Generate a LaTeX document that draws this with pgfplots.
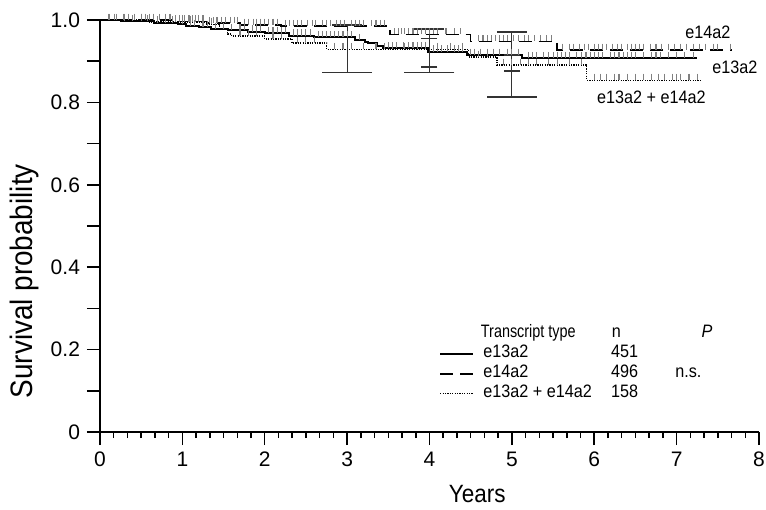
\documentclass[border=0pt]{standalone}
\usepackage{fontspec}
\setmainfont{Liberation Sans}[FakeStretch=0.9]
\newfontfamily\tickfont{Liberation Sans}
\newfontfamily\narrowfont{Liberation Sans}[FakeStretch=0.8]
\usepackage{pgfplots}
\pgfplotsset{compat=1.18}
\begin{document}
\begin{tikzpicture}
\begin{axis}[
  scale only axis, width=329.5pt, height=206pt,
  xmin=0, xmax=8, ymin=0, ymax=1,
  axis lines=left, axis line style={line width=0.75pt, -},
  clip=false,
  xtick={0,1,2,3,4,5,6,7,8}, minor x tick num=5,
  ytick={0,0.2,0.4,0.6,0.8,1.0}, yticklabels={0,0.2,0.4,0.6,0.8,1.0},
  extra y ticks={0.1,0.3,0.5,0.7,0.9}, extra y tick labels={},
  tick align=outside,
  major tick length=6.5pt, minor tick length=3pt,
  tick style={line width=0.75pt, black},
  /pgf/number format/assume math mode=true,
  tick label style={font=\tickfont\fontsize{10.5}{12}\selectfont},
  xlabel={Years}, ylabel={Survival probability},
  xlabel style={at={(axis description cs:0.5725,-0.1505)}, anchor=center, font=\fontsize{12.5}{14}\selectfont},
  ylabel style={at={(axis description cs:-0.1153,0.366)}, anchor=center, font=\fontsize{15.5}{17}\selectfont},
]
% censor marks
\addplot[only marks, mark=|, mark size=1.6pt, mark options={yshift=1.6pt, line width=0.55pt, draw=black!50}] table {
0.3 1.0
0.5 1.0
0.8 0.995
1.1 0.995
1.35 0.99
1.7 0.961
1.8 0.961
1.9 0.961
2.1 0.954
2.2 0.954
2.4 0.944
2.5 0.944
2.6 0.944
2.85 0.929
2.95 0.929
3.05 0.929
3.2 0.929
3.35 0.929
3.45 0.929
3.55 0.929
3.7 0.929
3.85 0.929
3.95 0.929
4.1 0.929
4.25 0.929
4.4 0.929
4.6 0.91
4.7 0.91
4.9 0.891
5.0 0.891
5.1 0.891
5.2 0.891
5.3 0.891
5.45 0.891
5.55 0.891
5.7 0.891
5.85 0.891
6.0 0.854
6.08 0.854
6.15 0.854
6.25 0.854
6.3 0.854
6.4 0.854
6.5 0.854
6.6 0.854
6.7 0.854
6.78 0.854
6.85 0.854
6.95 0.854
7.0 0.854
7.05 0.854
7.15 0.854
7.25 0.854
};
\addplot[only marks, mark=|, mark size=1.6pt, mark options={yshift=1.6pt, line width=0.55pt, draw=black!50}] table {
0.1 1.0
0.18 1.0
0.3 0.997
0.4 0.997
0.5 0.997
0.58 0.997
0.7 0.993
0.8 0.993
0.88 0.993
1.0 0.99
1.1 0.985
1.15 0.985
1.25 0.982
1.3 0.982
1.4 0.978
1.5 0.978
1.6 0.975
1.7 0.975
1.75 0.975
1.85 0.972
1.9 0.972
1.95 0.972
2.05 0.968
2.1 0.968
2.15 0.968
2.2 0.968
2.25 0.968
2.35 0.962
2.4 0.962
2.45 0.962
2.5 0.962
2.55 0.962
2.65 0.958
2.7 0.958
2.75 0.958
2.8 0.958
2.85 0.958
2.9 0.958
2.95 0.958
3.0 0.958
3.05 0.958
3.15 0.951
3.5 0.931
3.55 0.931
3.6 0.931
3.68 0.931
3.75 0.931
3.8 0.931
3.85 0.931
3.9 0.931
3.95 0.931
4.05 0.923
4.1 0.923
4.15 0.923
4.22 0.923
4.3 0.923
4.35 0.923
4.4 0.923
4.5 0.915
4.55 0.915
4.62 0.915
4.7 0.915
4.78 0.915
4.85 0.915
4.95 0.915
5.0 0.915
5.08 0.915
5.2 0.907
5.25 0.907
5.3 0.907
5.38 0.907
5.45 0.907
5.5 0.907
5.55 0.907
5.6 0.907
5.65 0.907
5.7 0.907
5.78 0.907
5.85 0.907
5.9 0.907
5.95 0.907
6.0 0.907
6.05 0.907
6.1 0.907
6.2 0.907
6.25 0.907
6.3 0.907
6.35 0.907
6.4 0.907
6.45 0.907
6.5 0.907
6.6 0.907
6.7 0.907
6.75 0.907
6.8 0.907
6.9 0.907
7.0 0.907
7.1 0.907
7.2 0.907
};
\addplot[only marks, mark=|, mark size=1.6pt, mark options={yshift=1.6pt, line width=0.55pt, draw=black!50}] table {
0.12 1.0
0.2 1.0
0.28 1.0
0.35 1.0
0.42 1.0
0.5 1.0
0.55 1.0
0.6 1.0
0.65 1.0
0.72 1.0
0.8 1.0
0.85 1.0
0.92 0.996
0.97 0.996
1.0 0.996
1.03 0.996
1.08 0.996
1.12 0.996
1.16 0.996
1.2 0.996
1.25 0.996
1.33 0.992
1.38 0.992
1.42 0.992
1.47 0.992
1.52 0.992
1.58 0.992
1.63 0.992
1.67 0.992
1.75 0.988
1.8 0.988
1.86 0.988
1.9 0.988
1.95 0.988
2.0 0.988
2.05 0.988
2.1 0.988
2.15 0.988
2.25 0.985
2.3 0.985
2.35 0.985
2.4 0.985
2.45 0.985
2.52 0.985
2.58 0.985
2.62 0.985
2.7 0.985
2.75 0.985
2.8 0.985
2.87 0.985
2.92 0.985
2.97 0.985
3.05 0.985
3.1 0.985
3.15 0.985
3.2 0.985
3.3 0.985
3.35 0.985
3.4 0.985
3.45 0.985
3.58 0.965
3.62 0.965
3.66 0.965
3.7 0.965
3.75 0.965
3.8 0.965
3.85 0.965
3.9 0.965
3.95 0.965
4.0 0.965
4.05 0.965
4.1 0.965
4.2 0.965
4.3 0.965
4.38 0.965
4.6 0.948
4.65 0.948
4.7 0.948
4.75 0.948
4.8 0.948
4.85 0.948
4.9 0.948
4.95 0.948
5.02 0.948
5.08 0.948
5.15 0.948
5.2 0.948
5.28 0.948
5.35 0.948
5.42 0.948
5.48 0.948
5.62 0.927
5.7 0.927
5.75 0.927
5.82 0.927
5.88 0.927
5.93 0.927
6.0 0.927
6.05 0.927
6.1 0.927
6.15 0.927
6.22 0.927
6.28 0.927
6.33 0.927
6.4 0.927
6.45 0.927
6.5 0.927
6.55 0.927
6.6 0.927
6.68 0.927
6.75 0.927
6.82 0.927
6.9 0.927
6.97 0.927
7.05 0.927
7.12 0.927
7.2 0.927
7.28 0.927
7.35 0.927
7.45 0.927
7.5 0.927
7.65 0.927
};
% survival curves
\addplot[const plot, black, line width=0.6pt, dash pattern=on 0.6pt off 0.6pt] coordinates {
(0,1.0) (0.6,0.995) (1.3,0.99) (1.45,0.98) (1.5,0.977) (1.55,0.966) (1.6,0.961) (2.0,0.954) (2.33,0.944) (2.75,0.929) (4.47,0.91) (4.82,0.891) (5.91,0.854) (7.3,0.854)
};
\addplot[const plot, black, line width=1pt] coordinates {
(0,1.0) (0.25,0.997) (0.65,0.993) (0.95,0.99) (1.05,0.985) (1.2,0.982) (1.35,0.978) (1.55,0.975) (1.8,0.972) (2.0,0.968) (2.3,0.962) (2.6,0.958) (3.09,0.951) (3.22,0.947) (3.25,0.943) (3.36,0.938) (3.44,0.931) (3.98,0.923) (4.45,0.915) (5.12,0.907) (7.25,0.907)
};
\addplot[const plot, black, line width=0.8pt, dash pattern=on 6.5pt off 3.5pt] coordinates {
(0,1.0) (0.9,0.996) (1.3,0.992) (1.7,0.988) (2.2,0.985) (3.52,0.965) (4.5,0.948) (5.55,0.927) (7.67,0.927)
};
% confidence intervals
\addplot[draw=none, mark=none, forget plot, error bars/.cd, y dir=minus, y explicit,
  error bar style={draw=black!80, solid, line width=0.6pt},
  error mark options={rotate=90, draw=black!80, solid, line width=0.6pt, mark size=12.5pt}] coordinates {
(3,0.929) += (0,0) -= (0,0.056)
(4,0.929) += (0,0) -= (0,0.056)
(5,0.891) += (0,0) -= (0,0.078)
};
\addplot[draw=none, mark=none, forget plot, error bars/.cd, y dir=plus, y explicit,
  error bar style={draw=black!80, solid, line width=0.6pt},
  error mark options={rotate=90, draw=black!80, solid, line width=0.6pt, mark size=7.5pt}] coordinates {
(3,0.929) += (0,0.059) -= (0,0)
(4,0.929) += (0,0.049) -= (0,0)
(5,0.891) += (0,0.080) -= (0,0)
};
\addplot[draw=none, mark=none, forget plot, error bars/.cd, y dir=both, y explicit,
  error bar style={draw=black!80, solid, line width=0.6pt},
  error mark options={rotate=90, draw=black!80, solid, line width=0.6pt, mark size=4pt}] coordinates {
(4,0.921) +- (0,0.035)
(5,0.8955) +- (0,0.0195)
};
% curve labels
\node[anchor=west, inner sep=0pt, font=\fontsize{9}{11}\selectfont] at (axis cs:7.10,0.971) {e14a2};
\node[anchor=west, inner sep=0pt, font=\fontsize{9}{11}\selectfont] at (axis cs:7.43,0.886) {e13a2};
\node[anchor=west, inner sep=0pt, font=\fontsize{9}{11}\selectfont] at (axis cs:6.03,0.813) {e13a2 + e14a2};
% legend
\begin{scope}[every node/.style={inner sep=0pt, font=\fontsize{9}{11}\selectfont, text height=6.5pt, text depth=1.8pt}]
\node[anchor=west, font=\narrowfont\fontsize{9}{11}\selectfont] at (axis cs:4.62,0.240) {Transcript type};
\node[anchor=center] at (axis cs:6.27,0.240) {n};
\node[anchor=center] at (axis cs:7.37,0.240) {\textit{P}};
\node[anchor=west] at (axis cs:4.65,0.192) {e13a2};
\node[anchor=west] at (axis cs:4.65,0.143) {e14a2};
\node[anchor=west] at (axis cs:4.65,0.095) {e13a2 + e14a2};
\node[anchor=west] at (axis cs:6.20,0.192) {451};
\node[anchor=west] at (axis cs:6.20,0.143) {496};
\node[anchor=west] at (axis cs:6.20,0.095) {158};
\node[anchor=west] at (axis cs:6.98,0.143) {n.s.};
\end{scope}
\draw[black, line width=1pt] (axis cs:4.13,0.189) -- (axis cs:4.53,0.189);
\draw[black, line width=0.8pt, dash pattern=on 6.5pt off 3.5pt] (axis cs:4.13,0.141) -- (axis cs:4.53,0.141);
\draw[black, line width=0.6pt, dash pattern=on 0.6pt off 0.6pt] (axis cs:4.13,0.093) -- (axis cs:4.53,0.093);
\end{axis}
\pgfresetboundingbox
\path[use as bounding box] (-50pt,-38.5pt) rectangle (333pt,216pt);
\end{tikzpicture}
\end{document}
